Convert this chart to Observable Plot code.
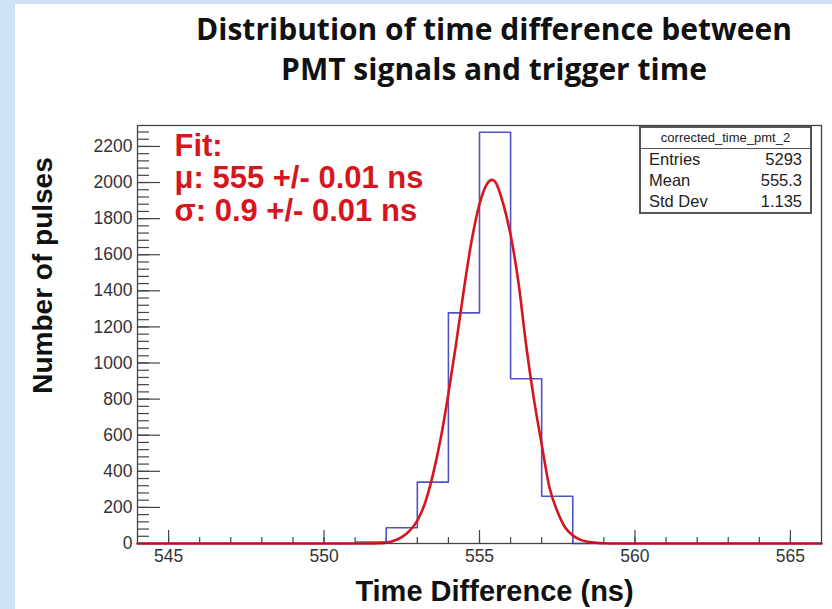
<!DOCTYPE html>
<html>
<head>
<meta charset="utf-8">
<script src="https://cdn.jsdelivr.net/npm/d3@7"></script>
<script src="https://cdn.jsdelivr.net/npm/@observablehq/plot@0.6"></script>
<style>
  html, body { margin: 0; padding: 0; width: 832px; height: 609px; overflow: hidden; background: #cfe2f3; }
  #panel { position: absolute; left: 15px; top: 4px; width: 817px; height: 605px; background: #ffffff; }
  #chart { position: absolute; left: 0; top: 0; }
  #title { position: absolute; left: 94px; top: 9px; width: 800px; text-align: center;
           font-family: "Open Sans", sans-serif; font-weight: 700; font-size: 30px; line-height: 40px; color: #111; white-space: nowrap; }
  #stats { position: absolute; left: 639px; top: 126px; width: 169px; height: 84px; background: #fff;
           border: 2px solid #555; font-family: "Liberation Sans", Arial, sans-serif; color: #222; }
  #stats .head { height: 20px; line-height: 20px; text-align: center; font-size: 13px; border-bottom: 1.5px solid #555; }
  #stats .row { display: flex; justify-content: space-between; padding: 0 8px 0 8px; height: 21px; line-height: 21px; font-size: 16.5px; }
</style>
</head>
<body>
<div id="panel"></div>
<div id="chart"></div>
<div id="title">Distribution of time difference between<br>PMT signals and trigger time</div>
<div id="stats"></div>
<script>
// ---- data ----
const xLabel = "Time Difference (ns)";
const yLabel = "Number of pulses";

// histogram: lower bin edges (1 ns bins) and counts
const binEdges = [544, 545, 546, 547, 548, 549, 550, 551, 552, 553, 554, 555, 556, 557, 558, 559, 560, 561, 562, 563, 564, 565];
const binCounts = [0, 0, 0, 0, 0, 0, 0, 8, 87, 340, 1278, 2279, 913, 262, 0, 0, 0, 0, 0, 0, 0, 0];
const histUpperEdge = 566;

// fitted curve
const fitTime = [544, 551.5, 551.75, 552.0, 552.25, 552.5, 552.75, 553.0, 553.25, 553.5, 553.75, 554.0, 554.25, 554.5, 554.75, 555.0, 555.25, 555.4, 555.5, 555.75, 556.0, 556.25, 556.5, 556.75, 557.0, 557.25, 557.5, 557.75, 558.0, 558.25, 558.5, 558.75, 559.0, 559.5, 566];
const fitCounts = [0, 0, 1, 5, 15, 35, 70, 127, 225, 380, 580, 830, 1110, 1410, 1680, 1880, 1995, 2015, 2005, 1890, 1710, 1450, 1100, 800, 550, 310, 180, 90, 45, 20, 9, 4, 1, 0, 0];

const fitLines = ["Fit:", "μ: 555 +/- 0.01 ns", "σ: 0.9 +/- 0.01 ns"];

const statsName = "corrected_time_pmt_2";
const statsLabels = ["Entries", "Mean", "Std Dev"];
const statsValues = ["5293", "555.3", "1.135"];

const xMajorTicks = [545, 550, 555, 560, 565];
const xMinorTicks = [545, 546, 547, 548, 549, 550, 551, 552, 553, 554, 555, 556, 557, 558, 559, 560, 561, 562, 563, 564, 565];
const yMajorTicks = [0, 200, 400, 600, 800, 1000, 1200, 1400, 1600, 1800, 2000, 2200];
const yMinorTicks = d3.range(0, 2300, 40);

// ---- build tables ----
const histPoints = binEdges.map((t, i) => ({t, n: binCounts[i]})).concat([{t: histUpperEdge, n: 0}]);
const fitPoints = fitTime.map((t, i) => ({t, n: fitCounts[i]}));

const font = "Liberation Sans, Arial, Helvetica, sans-serif";
const red = "#d6161f";

const chart = Plot.plot({
  width: 832,
  height: 609,
  marginLeft: 137,
  marginRight: 11,
  marginTop: 125,
  marginBottom: 66,
  style: {background: "transparent", fontFamily: font, overflow: "visible"},
  x: {domain: [544, 566], axis: null},
  y: {domain: [0, 2316], axis: null},
  marks: [
    Plot.ruleX(xMinorTicks, {x: d => d, insetTop: 412, stroke: "#444", strokeWidth: 1.2}),
    Plot.ruleX(xMajorTicks, {x: d => d, insetTop: 405, stroke: "#444", strokeWidth: 1.2}),
    Plot.ruleY(yMinorTicks, {y: d => d, insetRight: 672, stroke: "#444", strokeWidth: 1.2}),
    Plot.ruleY(yMajorTicks, {y: d => d, insetRight: 661, stroke: "#444", strokeWidth: 1.2}),
    Plot.axisX(xMajorTicks, {tickSize: 0, tickPadding: 6, fontSize: 17.5, fill: "#333", fontFamily: font, label: null, tickFormat: d => String(d)}),
    Plot.axisY(yMajorTicks, {tickSize: 0, tickPadding: 5, fontSize: 17.5, fill: "#333", fontFamily: font, label: null, tickFormat: d => String(d)}),
    Plot.line(histPoints, {x: "t", y: "n", curve: "step-after", stroke: "#5252c8", strokeWidth: 1.6}),
    Plot.line(fitPoints, {x: "t", y: "n", curve: "monotone-x", stroke: red, strokeWidth: 2.6}),
    Plot.frame({stroke: "#444", strokeWidth: 1.3}),
    Plot.text([fitLines.join("\n")], {text: d => d, frameAnchor: "top-left", dx: 37, dy: 7, lineAnchor: "top",
      textAnchor: "start", lineHeight: 1.05, fontSize: 31, fontWeight: "bold", fill: red, fontFamily: font}),
    Plot.text([xLabel], {text: d => d, frameAnchor: "bottom", dx: 15, dy: 37, lineAnchor: "top", textAnchor: "middle",
      fontSize: 29, fontWeight: "bold", fill: "#111", fontFamily: font}),
    Plot.text([yLabel], {text: d => d, frameAnchor: "left", dx: -94, dy: -59, rotate: -90, textAnchor: "middle",
      fontSize: 28, fontWeight: "bold", fill: "#111", fontFamily: font})
  ]
});
document.getElementById("chart").appendChild(chart);

// stats box
const stats = d3.select("#stats");
stats.append("div").attr("class", "head").text(statsName);
statsLabels.forEach((lab, i) => {
  const row = stats.append("div").attr("class", "row");
  row.append("span").text(lab);
  row.append("span").text(statsValues[i]);
});
</script>
</body>
</html>
